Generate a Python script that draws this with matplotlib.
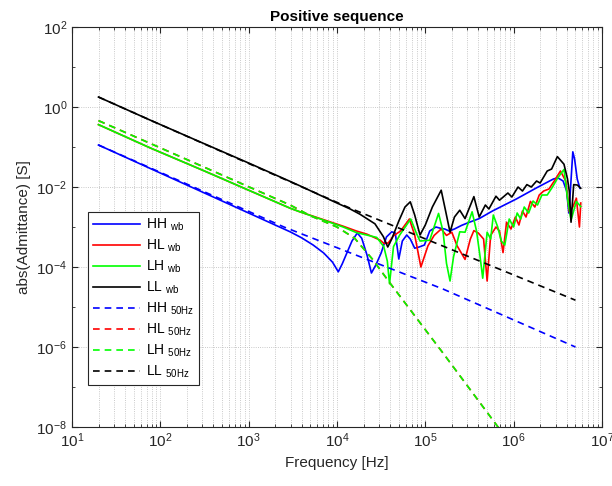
import matplotlib
matplotlib.use('Agg')
import matplotlib.pyplot as plt
import matplotlib.ticker as mticker
import numpy as np

plt.rcParams['font.family'] = ['Liberation Sans', 'DejaVu Sans']
plt.rcParams['mathtext.fontset'] = 'custom'
plt.rcParams['mathtext.rm'] = 'Liberation Sans'
plt.rcParams['mathtext.it'] = 'Liberation Sans:italic'
plt.rcParams['mathtext.bf'] = 'Liberation Sans:bold'
plt.rcParams['axes.unicode_minus'] = False

# values, as log10(frequency) / log10(|Y|)
hh_wb_f = [1.30, 2.0, 3.0, 3.3, 3.47, 3.6, 3.73, 3.85, 3.95, 4.015, 4.06, 4.11, 4.17,
           4.23, 4.28, 4.34, 4.39, 4.44, 4.50, 4.56, 4.62, 4.66, 4.70, 4.74, 4.79, 4.83,
           4.88, 4.93, 4.99, 5.05, 5.12, 5.17, 5.22, 5.27, 5.33, 5.41, 5.50, 5.61, 5.76,
           6.03, 6.26, 6.45, 6.50, 6.56, 6.60, 6.625, 6.645, 6.67, 6.69, 6.72, 6.75]
hh_wb_y = [-0.95, -1.65, -2.65, -2.95, -3.12, -3.27, -3.45, -3.65, -3.88, -4.12, -3.92, -3.66, -3.35,
           -3.15, -3.28, -3.7, -4.15, -3.95, -3.65, -3.25, -3.12, -3.15, -3.8, -3.35, -3.2, -3.3,
           -3.53, -3.5, -3.45, -3.1, -3.0, -3.03, -3.05, -3.1, -3.05, -2.96, -2.88, -2.79, -2.6,
           -2.3, -2.02, -1.8, -1.77, -1.85, -2.1, -2.65, -2.0, -1.12, -1.3, -1.8, -2.03]

hl_wb_f = [1.30, 1.883, 2.5, 3.0, 3.47, 3.58, 4.07, 4.22, 4.34, 4.49, 4.53, 4.58, 4.64, 4.72, 4.82,
           4.88, 4.95, 5.03, 5.10, 5.18, 5.24, 5.30, 5.36, 5.45, 5.51, 5.55, 5.60, 5.66,
           5.70, 5.74, 5.80, 5.84, 5.88, 5.92, 5.97, 6.02, 6.06, 6.10, 6.14, 6.19, 6.24,
           6.29, 6.34, 6.40, 6.46, 6.53, 6.59, 6.63, 6.67, 6.71, 6.745, 6.76]
hl_wb_y = [-0.44, -1.02, -1.6, -2.08, -2.53, -2.62, -2.98, -3.1, -3.18, -3.33, -3.41, -3.4, -3.22, -3.1, -2.8,
           -3.2, -4.0, -3.47, -3.21, -3.05, -3.21, -3.13, -3.47, -3.81, -3.3, -3.09, -3.15, -3.3,
           -4.35, -3.21, -3.0, -3.1, -3.64, -2.88, -3.05, -2.75, -2.95, -2.6, -2.75, -2.36, -2.5,
           -2.2, -2.1, -2.05, -1.85, -1.6, -1.85, -2.62, -2.5, -2.28, -3.0, -2.4]

lh_wb_f = [1.30, 1.883, 2.5, 3.0, 3.47, 3.58, 4.07, 4.22, 4.45, 4.53, 4.57, 4.595, 4.64, 4.71, 4.835,
           4.90, 4.94, 5.05, 5.15, 5.20, 5.24, 5.28, 5.32, 5.39, 5.45, 5.53, 5.58, 5.62,
           5.65, 5.70, 5.74, 5.77, 5.82, 5.86, 5.90, 5.95, 6.00, 6.04, 6.08, 6.12, 6.17,
           6.22, 6.27, 6.32, 6.38, 6.44, 6.50, 6.57, 6.61, 6.65, 6.71, 6.76]
lh_wb_y = [-0.44, -1.02, -1.6, -2.08, -2.53, -2.62, -3.0, -3.14, -3.26, -3.49, -3.85, -4.42, -3.49, -3.2, -2.8,
           -3.16, -3.35, -3.33, -2.66, -3.1, -3.91, -4.35, -3.74, -3.12, -3.13, -2.62, -3.1, -3.74,
           -4.28, -3.13, -3.3, -2.7, -3.0, -3.35, -3.45, -2.8, -3.0, -2.65, -2.8, -2.5, -2.65,
           -2.35, -2.45, -2.2, -2.2, -2.0, -1.77, -1.56, -2.28, -2.83, -2.36, -2.49]

ll_wb_f = [1.30, 1.883, 2.5, 3.0, 3.47, 3.58, 3.96, 4.15, 4.26, 4.43, 4.525, 4.575, 4.62, 4.70, 4.77, 4.83,
           4.88, 4.94, 5.0, 5.08, 5.18, 5.23, 5.28, 5.33, 5.39, 5.45, 5.55, 5.61, 5.68,
           5.72, 5.80, 5.84, 5.935, 5.98, 6.05, 6.10, 6.15, 6.20, 6.26, 6.30, 6.38, 6.43,
           6.495, 6.57, 6.61, 6.63, 6.65, 6.68, 6.72, 6.76]
ll_wb_y = [0.25, -0.325, -0.92, -1.4, -1.86, -1.97, -2.36, -2.55, -2.68, -2.92, -3.24, -3.5, -3.3, -2.85, -2.5, -2.37,
           -2.7, -3.2, -2.95, -2.5, -2.08, -2.6, -3.13, -2.75, -2.58, -2.79, -2.24, -2.75, -2.45,
           -2.55, -2.23, -2.33, -2.15, -2.25, -2.0, -2.1, -1.94, -2.0, -1.85, -1.9, -1.6, -1.55,
           -1.24, -1.43, -1.8, -2.1, -2.88, -1.94, -1.95, -2.03]

hh_50_f = [1.30, 3.4, 5.2, 6.70]
hh_50_y = [-0.95, -3.0, -4.55, -6.0]
hl_50_f = [1.30, 3.47, 3.7, 4.0, 4.2, 4.4, 4.6, 5.2, 5.84, 6.2]
hl_50_y = [-0.34, -2.45, -2.72, -3.0, -3.28, -3.8, -4.4, -6.15, -8.05, -9.1]
lh_50_f = hl_50_f
lh_50_y = hl_50_y
ll_50_f = [1.30, 1.883, 4.15, 6.70]
ll_50_y = [0.25, -0.325, -2.53, -4.83]

x_ticks = [1e1, 1e2, 1e3, 1e4, 1e5, 1e6, 1e7]
y_ticks = [1e-8, 1e-6, 1e-4, 1e-2, 1e0, 1e2]
y_minor = [1e-7, 1e-5, 1e-3, 1e-1, 1e1]

names = ['HH', 'HL', 'LH', 'LL']
colors = ['#0000ff', '#ff0000', '#00ff00', '#000000']
wb = [(hh_wb_f, hh_wb_y), (hl_wb_f, hl_wb_y), (lh_wb_f, lh_wb_y), (ll_wb_f, ll_wb_y)]
hz50 = [(hh_50_f, hh_50_y), (hl_50_f, hl_50_y), (lh_50_f, lh_50_y), (ll_50_f, ll_50_y)]

fig = plt.figure(figsize=(6.12, 4.86), dpi=100)
ax = fig.add_axes([0.1176, 0.1214, 0.866, 0.823])

for n, c, (f, y) in zip(names, colors, wb):
    ax.plot(10 ** np.array(f), 10 ** np.array(y), color=c, lw=1.2,
            label=n + r' $_{\rm wb}$')
for n, c, (f, y) in zip(names, colors, hz50):
    ax.plot(10 ** np.array(f), 10 ** np.array(y), color=c, lw=1.2, ls=(0, (4, 3)),
            label=n + r' $_{\rm 50Hz}$')

ax.set_xscale('log')
ax.set_yscale('log')
ax.set_xlim(1e1, 1e7)
ax.set_ylim(1e-8, 1e2)
ax.yaxis.set_major_locator(mticker.FixedLocator(y_ticks))
ax.yaxis.set_minor_locator(mticker.FixedLocator(y_minor))
ax.yaxis.set_minor_formatter(mticker.NullFormatter())
ax.xaxis.set_major_locator(mticker.FixedLocator(x_ticks))
ax.xaxis.set_minor_locator(mticker.LogLocator(base=10, subs=np.arange(2, 10), numticks=100))
ax.xaxis.set_minor_formatter(mticker.NullFormatter())

ax.grid(True, which='major', axis='both', ls=':', lw=0.6, color='#b8b8b8')
ax.grid(True, which='minor', axis='x', ls=':', lw=0.6, color='#b8b8b8')
ax.tick_params(which='both', direction='in', top=True, right=True, colors='#262626',
               labelsize=11)
ax.tick_params(which='major', length=4)
ax.tick_params(which='minor', length=2.5)
for s in ax.spines.values():
    s.set_color('#262626')
    s.set_linewidth(0.8)

ax.set_title('Positive sequence', fontsize=11, fontweight='bold', pad=4)
ax.set_xlabel('Frequency [Hz]', fontsize=11, color='#262626')
ax.set_ylabel('abs(Admittance) [S]', fontsize=11, color='#262626')

leg = ax.legend(loc='lower left', bbox_to_anchor=(0.03, 0.105), borderaxespad=0,
                fancybox=False, framealpha=1, edgecolor='#262626', fontsize=10,
                handlelength=3.4, handletextpad=0.45, labelspacing=0.33,
                borderpad=0.35)
leg.get_frame().set_linewidth(0.8)

fig.savefig('out.png', dpi=100)
